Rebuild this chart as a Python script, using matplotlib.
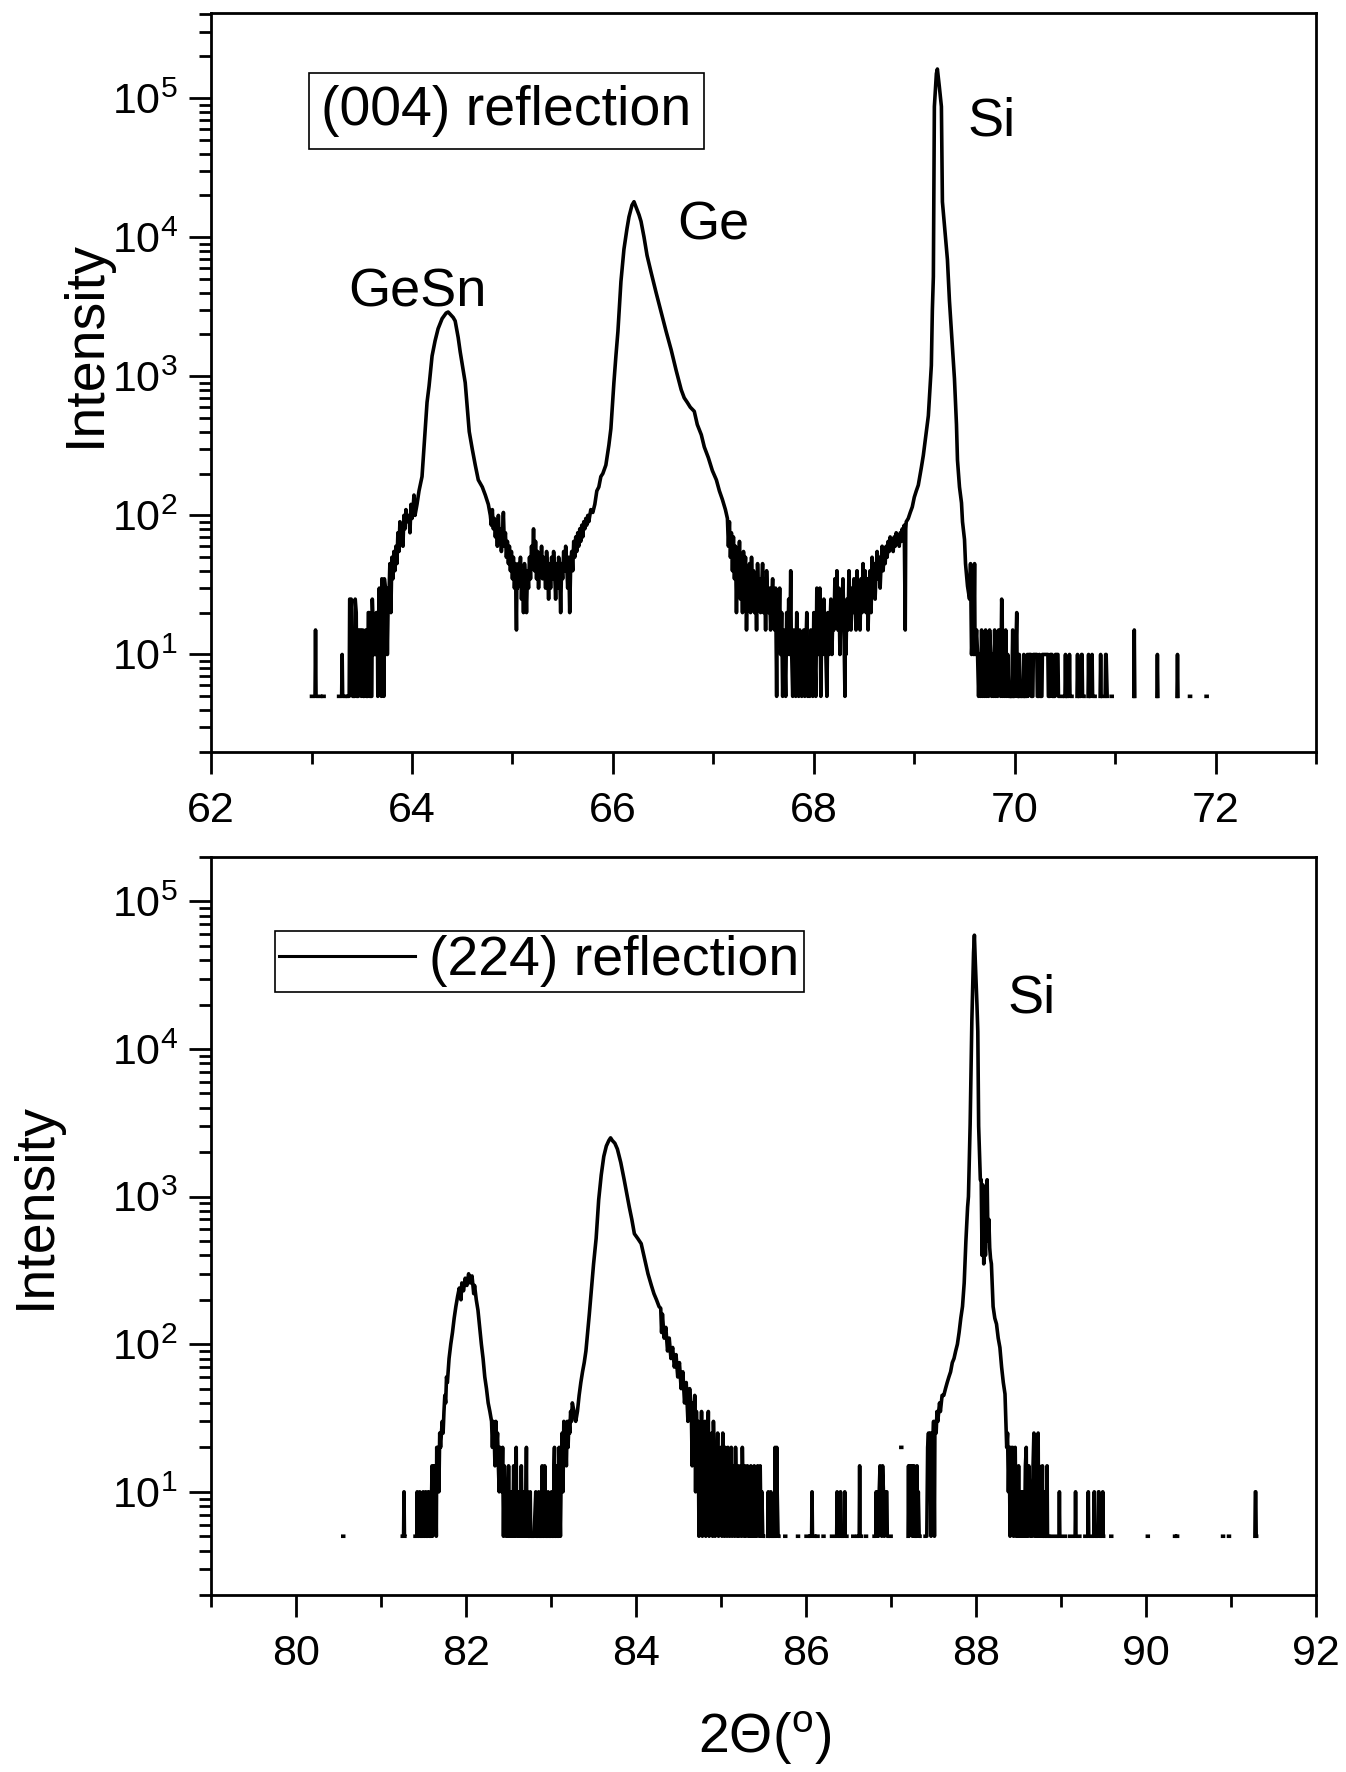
import numpy as np
import matplotlib
matplotlib.use('Agg')
import matplotlib.pyplot as plt
from matplotlib.ticker import MultipleLocator, LogLocator, FuncFormatter, NullFormatter

plt.rcParams['font.family'] = 'Liberation Sans'
plt.rcParams['mathtext.fontset'] = 'custom'
plt.rcParams['mathtext.rm'] = 'Liberation Sans'
plt.rcParams['mathtext.it'] = 'Liberation Sans:italic'

# (004) scan: 2theta (deg) and counts, 0 = no counts (gap on log axis)
theta_004 = [
    63.000, 63.035, 63.040, 63.045, 63.090, 63.095,
    63.115, 63.125, 63.130,
    63.270, 63.300, 63.305, 63.310, 63.330, 63.335,
    63.360, 63.375, 63.380, 63.395, 63.400, 63.410, 63.430, 63.435, 63.445, 63.450,
    63.465, 63.470, 63.490, 63.495, 63.510, 63.515, 63.525, 63.530, 63.540, 63.545,
    63.560, 63.565, 63.575, 63.580, 63.600, 63.605, 63.615, 63.620, 63.640, 63.645,
    63.655, 63.660, 63.665, 63.675, 63.680, 63.690, 63.695, 63.700, 63.710, 63.715,
    63.720, 63.725, 63.735, 63.740, 63.750, 63.755, 63.765, 63.770, 63.780, 63.790,
    63.80, 63.81, 63.82, 63.83, 63.84, 63.85, 63.86, 63.87, 63.88, 63.89,
    63.90, 63.91, 63.92, 63.93, 63.94, 63.95, 63.96, 63.97, 63.98, 63.99,
    64.00, 64.01, 64.02, 64.03, 64.05, 64.07, 64.10, 64.13, 64.15, 64.17,
    64.20, 64.23, 64.26, 64.30, 64.34, 64.36, 64.38, 64.41, 64.43, 64.46,
    64.48, 64.51, 64.53, 64.55, 64.57, 64.60, 64.63, 64.66, 64.70, 64.73,
    64.76, 64.78, 64.79, 64.80, 64.81, 64.82, 64.83, 64.84, 64.85, 64.86,
    64.87, 64.88, 64.89, 64.90, 64.91, 64.92, 64.93, 64.94, 64.95, 64.96,
    64.97, 64.98, 64.99, 65.00, 65.01, 65.02, 65.03, 65.04, 65.045, 65.05,
    65.06, 65.07, 65.08, 65.09, 65.10, 65.11, 65.12, 65.13, 65.14, 65.15,
    65.16, 65.17, 65.18, 65.19, 65.20, 65.21, 65.22, 65.23, 65.24, 65.25,
    65.26, 65.27, 65.28, 65.29, 65.30, 65.31, 65.32, 65.33, 65.34, 65.35,
    65.36, 65.37, 65.38, 65.39, 65.40, 65.41, 65.42, 65.43, 65.44, 65.45,
    65.46, 65.47, 65.48, 65.49, 65.50, 65.51, 65.52, 65.53, 65.54, 65.55,
    65.56, 65.57, 65.58, 65.59, 65.60, 65.61, 65.62, 65.63, 65.64, 65.65,
    65.66, 65.67, 65.68, 65.69, 65.70, 65.71, 65.72, 65.73, 65.74, 65.75,
    65.76, 65.78, 65.80, 65.82, 65.84, 65.86, 65.88, 65.90, 65.93, 65.96,
    65.98, 66.01, 66.03, 66.05, 66.08, 66.11, 66.14, 66.16, 66.19, 66.21,
    66.23, 66.26, 66.28, 66.31, 66.34, 66.38, 66.43, 66.48, 66.53, 66.58,
    66.63, 66.68, 66.71, 66.74, 66.77, 66.81, 66.84, 66.88, 66.91, 66.95,
    66.99, 67.03, 67.06, 67.09, 67.12, 67.14,
    67.15, 67.16, 67.17, 67.18, 67.19, 67.20, 67.21, 67.22, 67.23, 67.24,
    67.25, 67.26, 67.27, 67.28, 67.29, 67.30, 67.31, 67.32, 67.33, 67.34,
    67.35, 67.36, 67.37, 67.38, 67.39, 67.40, 67.41, 67.42, 67.43, 67.44,
    67.45, 67.46, 67.47, 67.48, 67.49, 67.50, 67.51, 67.52, 67.53, 67.54,
    67.55, 67.56, 67.57, 67.58, 67.59, 67.60, 67.61, 67.62, 67.63, 67.635,
    67.64, 67.65, 67.66, 67.67, 67.68, 67.69, 67.70, 67.71, 67.72, 67.73,
    67.74, 67.75, 67.76, 67.77, 67.775, 67.78, 67.79, 67.80, 67.81, 67.82,
    67.83, 67.84, 67.85, 67.86, 67.87, 67.88, 67.89, 67.90, 67.91, 67.92,
    67.93, 67.94, 67.95, 67.96, 67.97, 67.98, 67.99, 68.00, 68.01, 68.02,
    68.03, 68.04, 68.05, 68.06, 68.07, 68.08, 68.09, 68.10, 68.11, 68.12,
    68.13, 68.14, 68.15, 68.16, 68.17, 68.18, 68.19, 68.20, 68.21, 68.22,
    68.23, 68.24, 68.25, 68.26, 68.27, 68.28, 68.29, 68.30, 68.31, 68.315,
    68.32, 68.33, 68.34, 68.35, 68.36, 68.37, 68.38, 68.39, 68.40, 68.41,
    68.42, 68.43, 68.44, 68.45, 68.46, 68.47, 68.48, 68.49, 68.50, 68.51,
    68.52, 68.53, 68.54, 68.55, 68.56, 68.57, 68.58, 68.59, 68.60, 68.61,
    68.62, 68.63, 68.64, 68.65, 68.66, 68.67, 68.68, 68.69, 68.70, 68.71,
    68.72, 68.73, 68.74, 68.75, 68.76, 68.77, 68.78, 68.79, 68.80, 68.81,
    68.82, 68.83, 68.84, 68.85, 68.86, 68.87, 68.88, 68.89, 68.90, 68.91,
    68.915, 68.92, 68.94, 68.96, 68.98, 69.00, 69.02, 69.04, 69.07, 69.09,
    69.12, 69.14, 69.16, 69.17, 69.18, 69.19, 69.20, 69.22, 69.23, 69.25,
    69.27, 69.28, 69.31, 69.33, 69.35, 69.37, 69.40, 69.42, 69.43, 69.45,
    69.47, 69.48, 69.50, 69.51, 69.53, 69.55, 69.56, 69.57, 69.58, 69.59,
    69.60, 69.605, 69.62, 69.63, 69.64, 69.65, 69.66, 69.67, 69.68, 69.69,
    69.70, 69.71, 69.72, 69.73, 69.74, 69.75, 69.76, 69.77, 69.78, 69.79,
    69.80, 69.81, 69.82, 69.83, 69.84, 69.85, 69.86, 69.87, 69.875, 69.88,
    69.89, 69.90, 69.91, 69.92, 69.93, 69.94, 69.95, 69.96, 69.97, 69.98,
    69.985, 70.00, 70.02, 70.025, 70.04, 70.045, 70.05, 70.06,
    70.08, 70.09, 70.095, 70.12, 70.125, 70.13, 70.14, 70.16, 70.165, 70.18,
    70.185, 70.22, 70.225, 70.24, 70.245, 70.25, 70.27, 70.275, 70.33, 70.335,
    70.35, 70.355, 70.37, 70.375, 70.40, 70.405, 70.43, 70.435, 70.47, 70.48,
    70.50, 70.505, 70.51, 70.54, 70.545, 70.55, 70.57, 70.575,
    70.62, 70.625, 70.63, 70.66, 70.665, 70.67, 70.675, 70.69, 70.70,
    70.73, 70.735, 70.74, 70.76, 70.77, 70.775, 70.80, 70.805,
    70.85, 70.855, 70.86, 70.90, 70.905, 70.91, 70.92, 70.925,
    70.96, 70.97, 70.975, 71.185, 71.19, 71.195, 71.20,
    71.415, 71.42, 71.425, 71.43, 71.615, 71.62, 71.625, 71.63,
    71.74, 71.75, 71.755, 71.905, 71.915, 71.92,
]
counts_004 = [
    5, 5, 15, 5, 5, 0,
    5, 5, 0,
    5, 5, 10, 5, 5, 0,
    5, 5, 25, 25, 10, 5, 5, 25, 20, 5,
    5, 15, 15, 5, 15, 5, 5, 10, 15, 5,
    5, 20, 20, 5, 5, 25, 15, 10, 10, 20,
    20, 5, 15, 30, 10, 20, 5, 35, 30, 10,
    5, 35, 30, 10, 20, 10, 30, 25, 45, 20,
    50, 35, 55, 40, 60, 45, 75, 55, 90, 65,
    85, 60, 100, 80, 110, 90, 95, 100, 75, 120,
    95, 110, 140, 100, 120, 150, 190, 400, 650, 850,
    1400, 1800, 2200, 2600, 2850, 2900, 2800, 2650, 2500, 1900,
    1500, 1100, 900, 600, 400, 300, 230, 180, 160, 140,
    120, 100, 85, 110, 80, 95, 70, 90, 60, 100,
    65, 80, 55, 70, 105, 60, 75, 50, 65, 45,
    60, 40, 55, 35, 50, 30, 45, 15, 40, 30,
    45, 35, 50, 25, 40, 20, 45, 35, 20, 40,
    30, 50, 35, 60, 45, 80, 40, 65, 35, 55,
    30, 50, 40, 60, 35, 50, 45, 30, 55, 40,
    25, 45, 30, 50, 35, 55, 40, 25, 45, 30,
    50, 40, 20, 45, 35, 55, 40, 60, 45, 30,
    50, 20, 45, 55, 40, 65, 50, 70, 55, 75,
    60, 80, 65, 85, 70, 90, 80, 95, 85, 100,
    90, 110, 105, 120, 150, 160, 190, 200, 230, 320,
    420, 900, 1400, 2100, 4800, 8200, 11500, 14000, 17000, 18000,
    16500, 14500, 13000, 10000, 7400, 5600, 4000, 2900, 2100, 1550,
    1100, 800, 700, 650, 600, 560, 450, 380, 310, 260,
    210, 180, 150, 130, 110, 95,
    60, 90, 50, 75, 40, 70, 35, 60, 20, 55,
    30, 65, 25, 45, 20, 55, 35, 50, 15, 40,
    25, 45, 20, 50, 25, 40, 20, 35, 15, 45,
    25, 35, 20, 30, 45, 20, 35, 15, 40, 25,
    20, 30, 15, 25, 35, 20, 15, 30, 5, 20,
    25, 15, 30, 10, 20, 5, 15, 10, 5, 20,
    10, 25, 10, 40, 15, 10, 5, 15, 10, 5,
    20, 10, 5, 15, 10, 5, 10, 15, 5, 10,
    20, 5, 10, 5, 15, 10, 5, 20, 10, 5,
    30, 15, 10, 30, 5, 20, 10, 25, 15, 10,
    5, 20, 10, 15, 25, 10, 20, 15, 35, 20,
    40, 15, 30, 10, 25, 20, 35, 15, 5, 20,
    10, 25, 15, 40, 20, 15, 30, 20, 35, 25,
    15, 40, 20, 30, 15, 35, 20, 45, 25, 40,
    20, 35, 15, 30, 40, 20, 50, 30, 45, 25,
    40, 55, 35, 50, 30, 45, 60, 40, 55, 45,
    60, 50, 65, 55, 70, 60, 65, 55, 70, 60,
    75, 65, 70, 60, 75, 65, 80, 70, 85, 15,
    80, 90, 95, 105, 115, 135, 150, 165, 220, 270,
    400, 520, 900, 1200, 3000, 5200, 87000, 150000, 162000, 120000,
    87000, 18000, 10000, 6900, 3500, 2100, 960, 450, 250, 160,
    123, 90, 67, 45, 31, 25, 45, 10, 15, 10,
    45, 10, 15, 10, 5, 10, 5, 15, 5, 10,
    5, 15, 5, 10, 5, 15, 10, 5, 10, 5,
    15, 5, 10, 5, 15, 10, 5, 25, 20, 5,
    10, 5, 15, 5, 10, 5, 5, 0, 5, 15,
    5, 5, 20, 5, 5, 10, 5, 0,
    5, 10, 5, 5, 10, 5, 10, 10, 5, 5,
    10, 10, 5, 5, 10, 5, 5, 10, 10, 5,
    5, 10, 10, 5, 5, 10, 10, 5, 5, 0,
    5, 10, 5, 5, 10, 5, 5, 0,
    5, 10, 5, 5, 10, 10, 5, 5, 0,
    5, 10, 5, 5, 10, 5, 5, 0,
    5, 10, 5, 5, 10, 10, 5, 0,
    5, 5, 0, 5, 15, 5, 0,
    5, 10, 5, 0, 5, 10, 5, 0,
    5, 5, 0, 5, 5, 0,
]

# (224) scan
theta_224 = [
    80.550, 80.560, 80.565,
    81.250, 81.265, 81.270, 81.275, 81.280, 81.285,
    81.400, 81.420, 81.425, 81.430, 81.450, 81.455, 81.460, 81.490, 81.495, 81.500,
    81.520, 81.525, 81.530, 81.550, 81.555, 81.560, 81.565, 81.590, 81.595, 81.600,
    81.605, 81.620, 81.625, 81.630, 81.640, 81.650, 81.655, 81.660, 81.670, 81.680,
    81.69, 81.70, 81.71, 81.72, 81.73, 81.74, 81.75, 81.76, 81.77, 81.78,
    81.80, 81.82, 81.84, 81.86, 81.88, 81.90, 81.92, 81.94, 81.95, 81.97,
    81.99, 82.01, 82.03, 82.05, 82.07, 82.09, 82.10, 82.12, 82.14, 82.16,
    82.18, 82.20, 82.22, 82.24, 82.26, 82.28, 82.30, 82.31, 82.32, 82.33,
    82.34, 82.35, 82.36, 82.37, 82.38, 82.39, 82.40, 82.41, 82.42, 82.43,
    82.44, 82.45, 82.46, 82.47, 82.48, 82.49, 82.50, 82.51, 82.52, 82.53,
    82.54, 82.55, 82.56, 82.57, 82.58, 82.59, 82.595, 82.61, 82.62, 82.63,
    82.64, 82.65, 82.66, 82.67, 82.68, 82.69, 82.70, 82.71, 82.715, 82.72,
    82.73, 82.75, 82.755, 82.76, 82.78, 82.80, 82.82, 82.825, 82.85, 82.855,
    82.86, 82.89, 82.895, 82.90, 82.92, 82.925, 82.93, 82.935, 82.96, 82.965,
    82.97, 83.00, 83.005, 83.01, 83.03, 83.035, 83.04, 83.045, 83.06, 83.065,
    83.07, 83.075, 83.09, 83.095, 83.10, 83.11, 83.12, 83.13, 83.14, 83.15,
    83.16, 83.17, 83.18, 83.19, 83.20, 83.21, 83.22, 83.23, 83.24, 83.25,
    83.27, 83.29, 83.31, 83.33, 83.35, 83.37, 83.39, 83.41, 83.43, 83.45,
    83.47, 83.50, 83.53, 83.56, 83.59, 83.62, 83.65, 83.68, 83.70, 83.72,
    83.75, 83.78, 83.82, 83.86, 83.89, 83.92, 83.95, 83.98, 84.02, 84.06,
    84.10, 84.14, 84.18, 84.21, 84.24, 84.27, 84.29, 84.30, 84.31, 84.33,
    84.35, 84.37, 84.39, 84.41, 84.43, 84.45, 84.47, 84.49, 84.51, 84.53,
    84.55, 84.57, 84.59, 84.61, 84.63, 84.65, 84.66, 84.67, 84.68, 84.69,
    84.70, 84.71, 84.72, 84.73, 84.74, 84.75, 84.76, 84.77, 84.78, 84.79,
    84.80, 84.81, 84.82, 84.83, 84.84, 84.85, 84.86, 84.87, 84.88, 84.89,
    84.90, 84.91, 84.92, 84.93, 84.94, 84.95, 84.96, 84.97, 84.98, 84.99,
    85.00, 85.01, 85.02, 85.03, 85.04, 85.05, 85.06, 85.07, 85.08, 85.09,
    85.10, 85.11, 85.12, 85.13, 85.14, 85.15, 85.16, 85.17, 85.18, 85.19,
    85.20, 85.21, 85.22, 85.23, 85.24, 85.25, 85.26, 85.27, 85.28, 85.29,
    85.30, 85.31, 85.32, 85.33, 85.34, 85.35, 85.36, 85.37, 85.38, 85.39,
    85.40, 85.41, 85.42, 85.43, 85.44, 85.45, 85.46, 85.47, 85.48, 85.49,
    85.50, 85.505, 85.55, 85.555, 85.56, 85.58, 85.585, 85.59, 85.63, 85.635,
    85.64, 85.65, 85.655, 85.66, 85.67, 85.68, 85.685,
    85.75, 85.76, 85.765, 85.90, 85.91, 85.915, 86.00, 86.02, 86.025,
    86.05, 86.065, 86.07, 86.075, 86.10, 86.105, 86.13, 86.14, 86.145,
    86.20, 86.21, 86.215, 86.30, 86.36, 86.365, 86.37, 86.40, 86.405, 86.41,
    86.45, 86.455, 86.46, 86.48, 86.485, 86.55, 86.56, 86.565,
    86.60, 86.625, 86.63, 86.635, 86.65, 86.655, 86.70, 86.71, 86.715,
    86.80, 86.82, 86.825, 86.83, 86.84, 86.85, 86.86, 86.87, 86.88, 86.89,
    86.90, 86.91, 86.92, 86.93, 86.95, 86.955, 86.99, 87.00, 87.005,
    87.115, 87.125, 87.13,
    87.20, 87.205, 87.21, 87.22, 87.23, 87.24, 87.25, 87.26, 87.27, 87.275,
    87.30, 87.305, 87.31, 87.32, 87.33, 87.34, 87.345,
    87.40, 87.42, 87.43, 87.44, 87.45, 87.46, 87.47, 87.48, 87.49, 87.50,
    87.51, 87.515, 87.52, 87.53, 87.54, 87.55, 87.56, 87.57, 87.58, 87.60,
    87.62, 87.64, 87.66, 87.68, 87.70, 87.72, 87.74, 87.76, 87.78, 87.80,
    87.82, 87.84, 87.86, 87.88, 87.90, 87.91, 87.93, 87.95, 87.97, 87.98,
    87.99, 88.01, 88.02, 88.03, 88.05, 88.06, 88.07, 88.08, 88.09, 88.10,
    88.11, 88.12, 88.13, 88.14, 88.15, 88.16, 88.17, 88.18, 88.20, 88.22,
    88.24, 88.26, 88.28, 88.30, 88.32, 88.34, 88.35, 88.36, 88.37, 88.38,
    88.39, 88.40, 88.41, 88.42, 88.43, 88.44, 88.45, 88.46, 88.47, 88.48,
    88.49, 88.50, 88.51, 88.52, 88.53, 88.54, 88.55, 88.56, 88.57, 88.58,
    88.59, 88.595, 88.60, 88.61, 88.62, 88.63, 88.64, 88.65, 88.66, 88.67,
    88.68, 88.685, 88.69, 88.70, 88.71, 88.72, 88.73, 88.735, 88.74, 88.75,
    88.76, 88.77, 88.78, 88.785, 88.80, 88.805, 88.81, 88.83, 88.835, 88.84,
    88.86, 88.865, 88.90, 88.975, 88.98, 88.985, 89.05, 89.055,
    89.10, 89.165, 89.17, 89.175, 89.22, 89.225, 89.28, 89.315, 89.32, 89.325,
    89.385, 89.39, 89.395, 89.435, 89.44, 89.445, 89.45, 89.485, 89.49, 89.495,
    89.50, 89.505, 89.585, 89.595, 89.60, 90.015, 90.025, 90.03,
    90.335, 90.345, 90.35, 90.36, 90.37, 90.375, 90.90, 90.91, 90.915, 90.97,
    90.98, 90.985, 91.28, 91.285, 91.29, 91.295, 91.30,
]
counts_224 = [
    5, 5, 0,
    5, 5, 10, 5, 5, 0,
    5, 5, 10, 5, 5, 10, 5, 5, 10, 5,
    5, 10, 5, 5, 10, 10, 5, 5, 10, 15,
    5, 10, 15, 10, 15, 5, 20, 15, 20, 10,
    25, 20, 25, 30, 25, 35, 45, 40, 60, 55,
    80, 100, 120, 150, 180, 210, 240, 200, 260, 230,
    280, 250, 300, 260, 290, 220, 250, 200, 170, 130,
    100, 80, 60, 50, 40, 35, 30, 20, 30, 25,
    15, 30, 20, 25, 15, 10, 20, 15, 10, 20,
    5, 15, 10, 5, 10, 5, 15, 5, 10, 5,
    10, 5, 15, 5, 10, 20, 5, 10, 5, 10,
    5, 15, 5, 10, 5, 10, 5, 20, 5, 10,
    5, 5, 10, 5, 5, 5, 10, 5, 5, 10,
    5, 5, 15, 5, 5, 15, 10, 5, 5, 10,
    5, 5, 10, 5, 5, 15, 20, 5, 5, 10,
    15, 5, 5, 20, 10, 5, 15, 25, 10, 30,
    20, 25, 15, 30, 20, 30, 25, 35, 30, 40,
    35, 30, 35, 45, 55, 65, 75, 90, 120, 160,
    220, 350, 520, 950, 1400, 1870, 2200, 2400, 2500, 2400,
    2300, 2100, 1700, 1300, 1050, 850, 700, 560, 520, 480,
    380, 300, 250, 220, 200, 180, 175, 120, 160, 110,
    130, 90, 110, 80, 95, 70, 85, 60, 75, 50,
    65, 40, 55, 30, 50, 35, 15, 40, 20, 45,
    10, 35, 15, 30, 5, 25, 10, 35, 5, 20,
    10, 30, 5, 25, 15, 35, 5, 20, 10, 25,
    5, 30, 15, 5, 20, 10, 25, 5, 15, 10,
    20, 5, 25, 10, 5, 20, 15, 5, 20, 10,
    5, 15, 20, 5, 15, 10, 5, 20, 10, 5,
    15, 5, 10, 15, 5, 20, 10, 5, 15, 5,
    10, 15, 5, 10, 5, 15, 5, 10, 5, 15,
    5, 10, 5, 15, 10, 5, 15, 5, 10, 5,
    5, 0, 5, 10, 5, 5, 10, 5, 5, 20,
    5, 5, 20, 10, 5, 5, 0,
    5, 5, 0, 5, 5, 0, 5, 5, 0,
    5, 5, 10, 5, 5, 0, 5, 5, 0,
    5, 5, 0, 5, 5, 10, 5, 5, 10, 5,
    5, 10, 5, 5, 0, 5, 5, 0,
    5, 5, 15, 5, 5, 0, 5, 5, 0,
    5, 5, 10, 5, 10, 5, 10, 15, 10, 5,
    15, 10, 5, 10, 10, 5, 5, 5, 0,
    20, 20, 0,
    5, 15, 5, 15, 10, 15, 5, 15, 15, 5,
    5, 15, 5, 10, 5, 5, 0,
    5, 5, 20, 25, 15, 25, 5, 25, 20, 30,
    5, 25, 30, 25, 35, 30, 35, 40, 35, 45,
    45, 50, 55, 60, 65, 75, 80, 90, 100, 120,
    150, 180, 260, 500, 850, 1000, 3100, 15500, 45000, 59000,
    40000, 20000, 13200, 3000, 1300, 1300, 400, 1200, 350, 1100,
    400, 1000, 1300, 500, 700, 450, 380, 350, 180, 150,
    137, 110, 95, 70, 55, 46, 30, 20, 25, 10,
    20, 5, 20, 10, 20, 5, 15, 20, 5, 10,
    5, 15, 5, 10, 5, 10, 5, 10, 5, 15,
    20, 5, 10, 5, 15, 10, 5, 10, 5, 15,
    25, 10, 5, 10, 5, 10, 25, 5, 15, 5,
    10, 5, 15, 5, 5, 10, 5, 5, 15, 5,
    5, 0, 5, 5, 10, 5, 5, 0,
    5, 5, 10, 5, 5, 0, 5, 5, 10, 5,
    5, 10, 5, 5, 10, 10, 5, 5, 10, 5,
    5, 0, 5, 5, 0, 5, 5, 0,
    5, 5, 0, 5, 5, 0, 5, 5, 0, 5,
    5, 0, 5, 10, 10, 5, 5,
]

peak_labels_004 = [('GeSn', 63.37, 3200), ('Ge', 66.64, 9600), ('Si', 69.53, 54000)]
peak_labels_224 = [('Si', 88.37, 17800)]


def masked(vals):
    y = np.array(vals, dtype=float)
    y[y <= 0] = np.nan
    return y


def pow10(v, pos):
    return r'$\mathregular{10^{%d}}$' % int(round(np.log10(v)))


def style(ax, xlim, ylim):
    ax.set_yscale('log')
    ax.set_xlim(*xlim)
    ax.set_ylim(*ylim)
    ax.xaxis.set_major_locator(MultipleLocator(2))
    ax.xaxis.set_minor_locator(MultipleLocator(1))
    ax.yaxis.set_major_locator(LogLocator(base=10))
    ax.yaxis.set_minor_locator(LogLocator(base=10, subs=np.arange(2, 10)))
    ax.yaxis.set_major_formatter(FuncFormatter(pow10))
    ax.yaxis.set_minor_formatter(NullFormatter())
    ax.tick_params(which='major', direction='out', length=16, width=2)
    ax.tick_params(which='minor', direction='out', length=8.5, width=2)
    ax.tick_params(axis='x', labelsize=31, pad=12)
    ax.tick_params(axis='y', labelsize=31, pad=8)
    for s in ax.spines.values():
        s.set_linewidth(2)


fig = plt.figure(figsize=(13.46, 17.72), dpi=100)
ax1 = fig.add_axes([0.1568, 0.5758, 0.821, 0.4169])
ax2 = fig.add_axes([0.1568, 0.0999, 0.821, 0.4165])

ax1.plot(theta_004, masked(counts_004), color='black', lw=2.6)
style(ax1, (62, 73), (2, 4.1e5))
for name, x, y in peak_labels_004:
    ax1.text(x, y, name, fontsize=39, ha='left', va='baseline')
ax1.text(0.0997, 0.848, '(004) reflection', transform=ax1.transAxes, fontsize=40,
         ha='left', va='baseline',
         bbox=dict(boxstyle='square,pad=0.22', fc='white', ec='black', lw=1.2))
ax1.set_ylabel('Intensity', fontsize=40)
ax1.yaxis.set_label_coords(-0.09, 0.553)

ax2.plot(theta_224, masked(counts_224), color='black', lw=2.6, label='(224) reflection')
style(ax2, (79, 92), (2, 2e5))
for name, x, y in peak_labels_224:
    ax2.text(x, y, name, fontsize=39, ha='left', va='baseline')
leg = ax2.legend(loc='upper left', bbox_to_anchor=(0.0576, 0.9), borderaxespad=0,
                 fontsize=40, handlelength=2.45, handletextpad=0.25, borderpad=0.08,
                 fancybox=False, framealpha=1)
leg.get_frame().set_edgecolor('black')
leg.get_frame().set_linewidth(1.2)
leg.get_lines()[0].set_linewidth(2.2)
ax2.set_ylabel('Intensity', fontsize=40)
ax2.yaxis.set_label_coords(-0.135, 0.527)
ax2.set_xlabel(r'2$\mathregular{\Theta}$($\mathregular{^o}$)', fontsize=40)
ax2.xaxis.set_label_coords(0.501, -0.156)

fig.savefig('out.png', dpi=100)
